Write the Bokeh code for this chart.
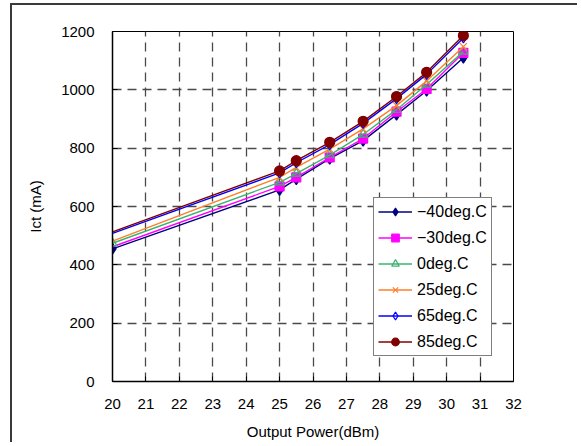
from bokeh.plotting import figure
from bokeh.models import Range1d, FixedTicker, Legend, LegendItem
from bokeh.embed import file_html
from bokeh.resources import INLINE

# ---- data ----
power = [20, 25, 25.5, 26.5, 27.5, 28.5, 29.4, 30.5]
ict_m40 = [455, 657, 694, 764, 826, 915, 997, 1110]
ict_m30 = [462, 669, 700, 768, 833, 925, 1003, 1127]
ict_0 = [474, 683, 713, 776, 847, 932, 1018, 1131]
ict_25 = [481, 700, 734, 797, 866, 946, 1030, 1148]
ict_65 = [508, 715, 750, 812, 885, 970, 1053, 1178]
ict_85 = [513, 722, 757, 820, 892, 977, 1060, 1186]
labels = ["\u221240deg.C", "\u221230deg.C", "0deg.C", "25deg.C", "65deg.C", "85deg.C"]
x_ticks = list(range(20, 33))
y_ticks = list(range(0, 1201, 200))

FONT = "Liberation Sans"

p = figure(width=567, height=439, output_backend="svg", toolbar_location=None,
           x_range=Range1d(20, 32), y_range=Range1d(0, 1200),
           min_border_left=100, min_border_right=66, min_border_top=26, min_border_bottom=63)
p.styles = {"margin-left": "10px", "margin-top": "3px",
            "border-left": "2px solid #3a3a3a", "border-top": "2px solid #3a3a3a"}
p.background_fill_color = "white"
p.border_fill_color = "white"
p.outline_line_color = "black"
p.outline_line_width = 1

for ax in (p.xaxis[0], p.yaxis[0]):
    ax.major_label_text_font = FONT
    ax.major_label_text_font_size = "15px"
    ax.major_label_text_color = "black"
    ax.axis_label_text_font = FONT
    ax.axis_label_text_font_size = "15px"
    ax.axis_label_text_font_style = "normal"
    ax.axis_label_text_color = "black"
    ax.axis_line_color = "black"
    ax.axis_line_width = 1.5
    ax.major_tick_in = 5
    ax.major_tick_out = 0
    ax.major_tick_line_color = "black"
    ax.minor_tick_line_color = None

p.xaxis.ticker = FixedTicker(ticks=x_ticks)
p.yaxis.ticker = FixedTicker(ticks=y_ticks)
p.xaxis.axis_label = "Output Power(dBm)"
p.yaxis.axis_label = "Ict (mA)"
p.xaxis.major_label_standoff = 17
p.yaxis.major_label_standoff = 18
p.xaxis.axis_label_standoff = 11
p.yaxis.axis_label_standoff = 14

p.xgrid.ticker = FixedTicker(ticks=x_ticks)
p.ygrid.ticker = FixedTicker(ticks=y_ticks)
for g in (p.xgrid[0], p.ygrid[0]):
    g.grid_line_color = "#4a4a4a"
    g.grid_line_width = 1.3
    g.grid_line_dash = "9 6"

series = [
    (ict_m40, "#000080", "diamond", "#000080", 11, 0),
    (ict_m30, "#FF00FF", "square", "#FF00FF", 9, 1),
    (ict_0, "#3CB371", "triangle", None, 9, 0),
    (ict_25, "#FF7F27", "x", None, 10, 1),
    (ict_65, "#0000FF", "diamond", None, 10, 1),
    (ict_85, "#800000", "circle", "#800000", 10, 1),
]

items = []
for (vals, col, mk, fill, sz, start), lab in zip(series, labels):
    r_line = p.line(power, vals, line_color=col, line_width=1.4)
    r_pts = p.scatter(power[start:], vals[start:], marker=mk, size=sz,
                      line_color=col, fill_color=fill if fill else "white",
                      fill_alpha=1.0 if fill else 0.0, line_width=1.2)
    items.append(LegendItem(label=lab, renderers=[r_line, r_pts]))

legend = Legend(items=items, location=(261, 25))
legend.label_text_font = FONT
legend.label_text_font_size = "16px"
legend.label_text_color = "black"
legend.border_line_color = "black"
legend.border_line_width = 1
legend.background_fill_color = "white"
legend.background_fill_alpha = 1
legend.glyph_width = 34
legend.glyph_height = 19
legend.label_height = 19
legend.label_standoff = 5
legend.spacing = 7
legend.padding = 4
legend.margin = 0
p.add_layout(legend, "center")

open("out.html", "w").write(file_html(p, INLINE))
